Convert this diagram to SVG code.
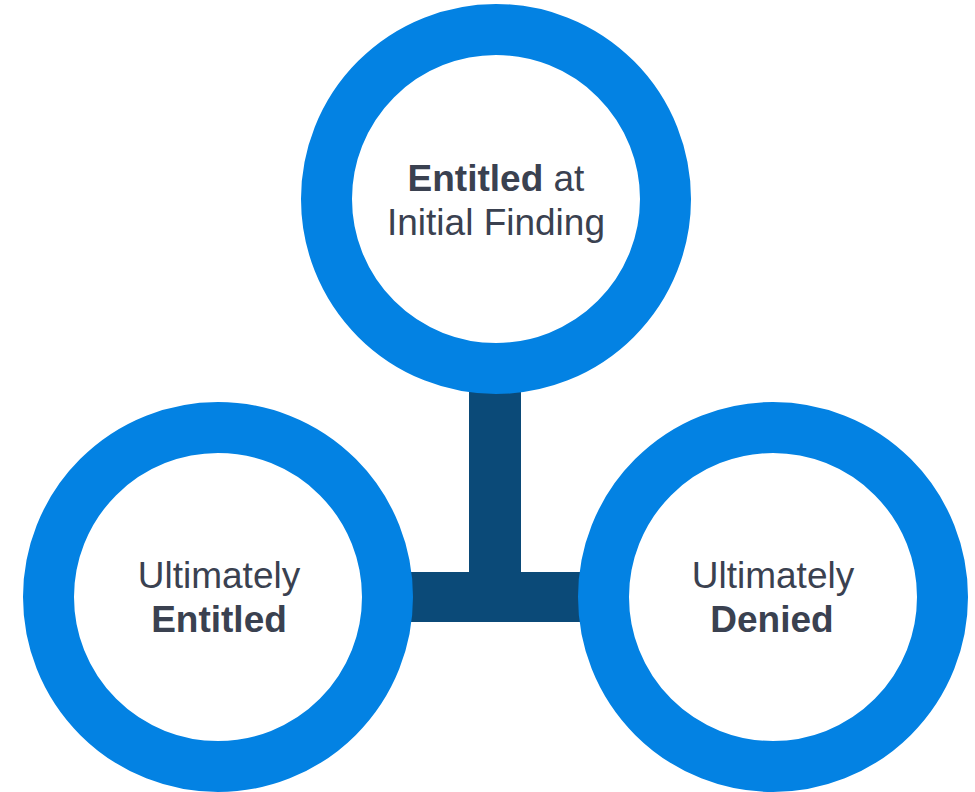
<svg xmlns="http://www.w3.org/2000/svg" width="975" height="792" viewBox="0 0 975 792">
<style>
.ring{fill:#ffffff;stroke:#0382E3;stroke-width:51}
.bar{fill:#0B4A78}
text{font-family:"Liberation Sans",Arial,sans-serif;font-size:37px;fill:#3A4150;text-anchor:middle}
.b{font-weight:bold}
</style>
<rect width="975" height="792" fill="#ffffff"/>
<g id="connectors">
<rect class="bar" x="469" y="360" width="52" height="240"/>
<rect class="bar" x="217" y="572" width="556" height="50"/>
</g>
<g id="node-top">
<circle class="ring" cx="496" cy="199" r="169.5"/>
<text x="496" y="191"><tspan class="b">Entitled</tspan> at</text>
<text x="496" y="235">Initial Finding</text>
</g>
<g id="node-left">
<circle class="ring" cx="218" cy="597" r="169.5"/>
<text x="219" y="588">Ultimately</text>
<text x="219" y="632" class="b">Entitled</text>
</g>
<g id="node-right">
<circle class="ring" cx="773" cy="597" r="169.5"/>
<text x="773" y="588">Ultimately</text>
<text x="772" y="632" class="b">Denied</text>
</g>
</svg>
